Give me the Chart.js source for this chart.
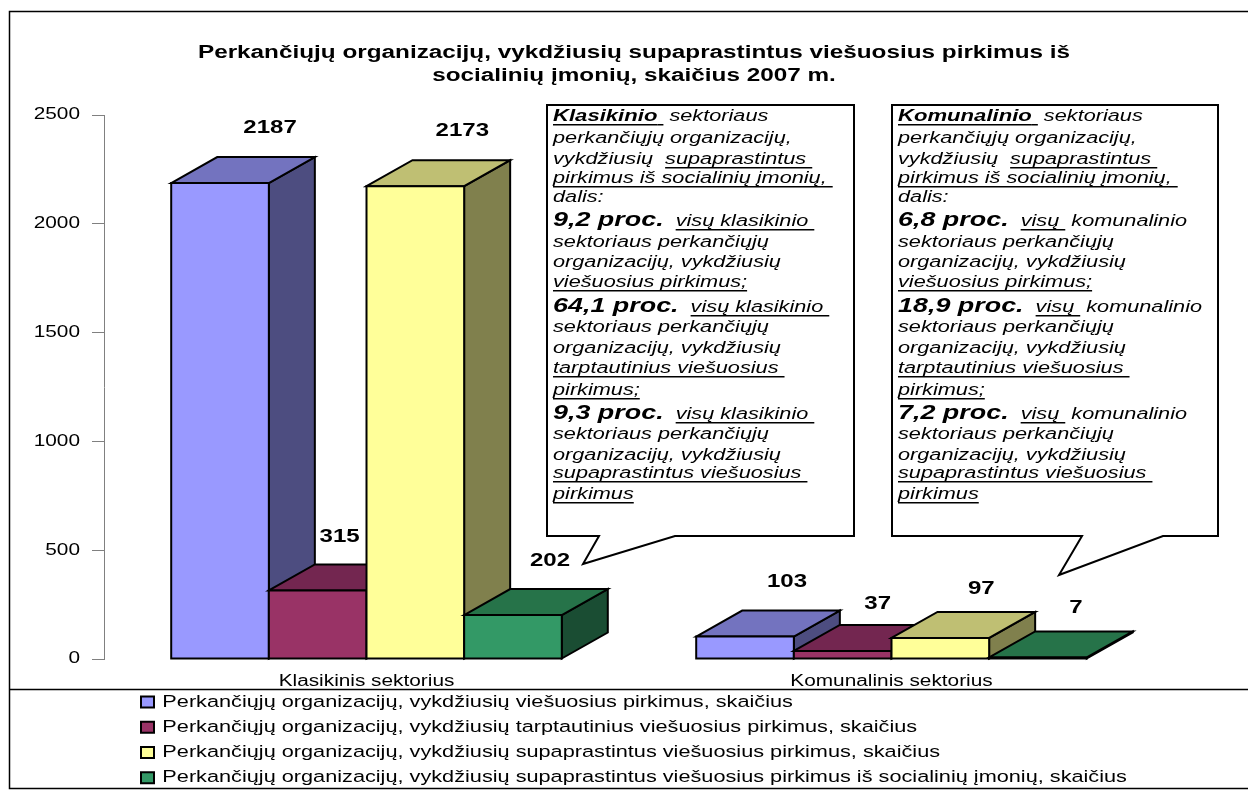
<!DOCTYPE html>
<html>
<head>
<meta charset="utf-8">
<title>Perkančiųjų organizacijų skaičius</title>
<script src="https://cdn.jsdelivr.net/npm/chart.js@4"></script>
<style>
  html, body { margin: 0; background: #fff; }
  canvas { display: block; }
</style>
</head>
<body>
<canvas id="chart" width="1248" height="790"></canvas>
<script>
// data
const categories = ["Klasikinis sektorius", "Komunalinis sektorius"];
const seriesNames = [
  "Perkančiųjų organizacijų, vykdžiusių viešuosius pirkimus, skaičius",
  "Perkančiųjų organizacijų, vykdžiusių tarptautinius viešuosius pirkimus, skaičius",
  "Perkančiųjų organizacijų, vykdžiusių supaprastintus viešuosius pirkimus, skaičius",
  "Perkančiųjų organizacijų, vykdžiusių supaprastintus viešuosius pirkimus iš socialinių įmonių, skaičius"
];
const publicValues = [2187, 103];
const internationalValues = [315, 37];
const simplifiedValues = [2173, 97];
const socialValues = [202, 7];
const chartTitle = [
  "Perkančiųjų organizacijų, vykdžiusių supaprastintus viešuosius pirkimus iš",
  "socialinių įmonių, skaičius 2007 m."
];

// callout text, one line per entry: [text, style] with b = bold, u = underlined, n = big number
const classicLines = [
  [["Klasikinio", "bu"], [" ", "u"], [" sektoriaus", ""]],
  [["perkančiųjų organizacijų,", ""]],
  [["vykdžiusių  ", ""], ["supaprastintus ", "u"]],
  [["pirkimus iš socialinių įmonių, ", "u"]],
  [["dalis:", ""]],
  [["9,2 proc.", "n"], ["  ", ""], ["visų klasikinio ", "u"]],
  [["sektoriaus perkančiųjų", ""]],
  [["organizacijų, vykdžiusių", ""]],
  [["viešuosius pirkimus;", "u"]],
  [["64,1 proc.", "n"], ["  ", ""], ["visų klasikinio ", "u"]],
  [["sektoriaus perkančiųjų", ""]],
  [["organizacijų, vykdžiusių", ""]],
  [["tarptautinius viešuosius ", "u"]],
  [["pirkimus;", "u"]],
  [["9,3 proc.", "n"], ["  ", ""], ["visų klasikinio ", "u"]],
  [["sektoriaus perkančiųjų", ""]],
  [["organizacijų, vykdžiusių", ""]],
  [["supaprastintus viešuosius ", "u"]],
  [["pirkimus", "u"]]
];
const utilityLines = [
  [["Komunalinio", "bu"], [" ", "u"], [" sektoriaus", ""]],
  [["perkančiųjų organizacijų,", ""]],
  [["vykdžiusių  ", ""], ["supaprastintus ", "u"]],
  [["pirkimus iš socialinių įmonių, ", "u"]],
  [["dalis:", ""]],
  [["6,8 proc.", "n"], ["  ", ""], ["visų ", "u"], [" komunalinio", ""]],
  [["sektoriaus perkančiųjų", ""]],
  [["organizacijų, vykdžiusių", ""]],
  [["viešuosius pirkimus;", "u"]],
  [["18,9 proc.", "n"], ["  ", ""], ["visų ", "u"], [" komunalinio", ""]],
  [["sektoriaus perkančiųjų", ""]],
  [["organizacijų, vykdžiusių", ""]],
  [["tarptautinius viešuosius ", "u"]],
  [["pirkimus;", "u"]],
  [["7,2 proc.", "n"], ["  ", ""], ["visų ", "u"], [" komunalinio", ""]],
  [["sektoriaus perkančiųjų", ""]],
  [["organizacijų, vykdžiusių", ""]],
  [["supaprastintus viešuosius ", "u"]],
  [["pirkimus", "u"]]
];

// look of the marks
const frontColors = ["#9999FF", "#993366", "#FFFF99", "#339966"];
const topColors   = ["#7373BF", "#732650", "#BFBF73", "#267349"];
const sideColors  = ["#4D4D80", "#4D1A33", "#80804D", "#1A4D33"];
const depthX = 46, depthY = 26;
const FONT = '"Liberation Sans", Arial, sans-serif';
const TEXT_STRETCH = 1.3;  // the original picture is widened, text included

// value labels were placed by hand in the original
const labelShiftX = [[50, 42], [22, 35], [47, 41], [37, 38]];
const labelShiftY = [[-29, -29], [-28, -21], [-29, -23], [-28, -24]];

const lineBaselines = [121, 143, 164, 183, 202, 226, 247, 267, 287, 312, 332, 353, 373, 395, 419, 439, 460, 478, 499];

const canvas = document.getElementById("chart");
const ctx = canvas.getContext("2d");

// stretch every text horizontally, also the ones chart.js draws
const rawFill = ctx.fillText.bind(ctx);
const rawMeasure = ctx.measureText.bind(ctx);
ctx.fillText = (text, x, y) => {
  ctx.save();
  ctx.translate(x, y);
  ctx.scale(TEXT_STRETCH, 1);
  rawFill(text, 0, 0);
  ctx.restore();
};
ctx.measureText = text => ({ width: rawMeasure(text).width * TEXT_STRETCH });

// 3D faces + value labels on top of the flat bars
const boxes3d = {
  id: "boxes3d",
  afterDatasetsDraw(chart) {
    const c = chart.ctx;
    c.save();
    c.lineWidth = 2;
    c.strokeStyle = "#000";
    c.lineJoin = "miter";
    chart.data.datasets.forEach((ds, s) => {
      chart.getDatasetMeta(s).data.forEach(bar => {
        const l = bar.x - bar.width / 2, r = bar.x + bar.width / 2, t = bar.y, b = bar.base;
        face(c, sideColors[s], [[r, b], [r + depthX, b - depthY], [r + depthX, t - depthY], [r, t]]);
        face(c, topColors[s], [[l, t], [l + depthX, t - depthY], [r + depthX, t - depthY], [r, t]]);
        face(c, frontColors[s], [[l, b], [l, t], [r, t], [r, b]]);
      });
    });
    c.fillStyle = "#000";
    c.font = "bold 18.5px " + FONT;
    c.textAlign = "center";
    c.textBaseline = "middle";
    chart.data.datasets.forEach((ds, s) => {
      chart.getDatasetMeta(s).data.forEach((bar, i) => {
        c.fillText(String(ds.data[i]), bar.x + labelShiftX[s][i], bar.y - depthY + labelShiftY[s][i]);
      });
    });
    c.restore();
  }
};

function face(c, color, pts) {
  c.beginPath();
  pts.forEach((p, i) => i ? c.lineTo(p[0], p[1]) : c.moveTo(p[0], p[1]));
  c.closePath();
  c.fillStyle = color;
  c.fill();
  c.stroke();
}

// the two speech bubbles
function drawCallout(c, lines, left, right, top, bottom, tail) {
  c.save();
  c.beginPath();
  c.moveTo(left, top);
  c.lineTo(right, top);
  c.lineTo(right, bottom);
  c.lineTo(tail[2], bottom);
  c.lineTo(tail[1][0], tail[1][1]);
  c.lineTo(tail[0], bottom);
  c.lineTo(left, bottom);
  c.closePath();
  c.fillStyle = "#fff";
  c.fill();
  c.lineWidth = 2;
  c.strokeStyle = "#000";
  c.stroke();

  c.fillStyle = "#000";
  c.textAlign = "left";
  c.textBaseline = "alphabetic";
  lines.forEach((runs, i) => {
    let x = left + 6;
    const y = lineBaselines[i];
    runs.forEach(([text, style]) => {
      if (style.includes("n")) c.font = "italic bold 20.7px " + FONT;
      else if (style.includes("b")) c.font = "italic bold 17px " + FONT;
      else c.font = "italic 16.7px " + FONT;
      c.fillText(text, x, y);
      const w = c.measureText(text).width;
      if (style.includes("u")) {
        c.fillRect(x, y + 3, w, 1.5);
      }
      x += w;
    });
  });
  c.restore();
}

const decorations = {
  id: "decorations",
  afterLayout(chart) {
    // legend and title sit off-centre in the original
    chart.legend.left = 132.4;
    chart.legend.top = 685;
    chart.titleBlock.left += 57;
    chart.titleBlock.right += 57;
    // category labels hang below the shrunk x scale box, keep them out of its clip
    chart.scales.x.bottom = 689;
  },
  afterDraw(chart) {
    const c = chart.ctx;
    drawCallout(c, classicLines, 547, 854, 105, 536, [599, [583, 564], 675]);
    drawCallout(c, utilityLines, 892, 1218, 105, 536, [1082, [1059, 575], 1163]);
    c.save();
    c.strokeStyle = "#000";
    c.lineWidth = 1.5;
    c.beginPath();
    c.moveTo(1248, 11.5); c.lineTo(9.5, 11.5); c.lineTo(9.5, 788.5); c.lineTo(1248, 788.5);
    c.moveTo(9.5, 689.5); c.lineTo(1248, 689.5);
    c.stroke();
    c.restore();
  }
};

new Chart(ctx, {
  type: "bar",
  data: {
    labels: categories,
    datasets: [publicValues, internationalValues, simplifiedValues, socialValues].map((values, s) => ({
      label: seriesNames[s],
      data: values,
      backgroundColor: frontColors[s],
      borderColor: "#000",
      borderWidth: 2,
      barPercentage: 1,
      categoryPercentage: 0.744
    }))
  },
  plugins: [boxes3d, decorations],
  options: {
    responsive: false,
    animation: false,
    layout: { padding: { right: 94 } },
    plugins: {
      tooltip: { enabled: false },
      title: {
        display: true,
        text: chartTitle,
        color: "#000",
        font: { family: FONT, size: 18.7, weight: "bold", lineHeight: 1.23 },
        padding: { top: 41, bottom: 28 }
      },
      legend: {
        position: "bottom",
        align: "start",
        labels: {
          color: "#000",
          boxWidth: 13,
          boxHeight: 11,
          padding: 8.6,
          font: { family: FONT, size: 16.7 }
        }
      }
    },
    scales: {
      x: {
        grid: { display: false, drawTicks: false },
        border: { display: false },
        ticks: { color: "#000", padding: 13, maxRotation: 0, font: { family: FONT, size: 16 } },
        afterFit(scale) { scale.height = 19.8; }
      },
      y: {
        min: 0,
        max: 2500,
        grid: { drawOnChartArea: false, color: "#808080", tickLength: 12 },
        border: { color: "#808080" },
        ticks: { stepSize: 500, color: "#000", padding: 12, callback: v => String(v), font: { family: FONT, size: 16 } },
        afterFit(scale) { scale.width = 104; }
      }
    }
  }
});
</script>
</body>
</html>
